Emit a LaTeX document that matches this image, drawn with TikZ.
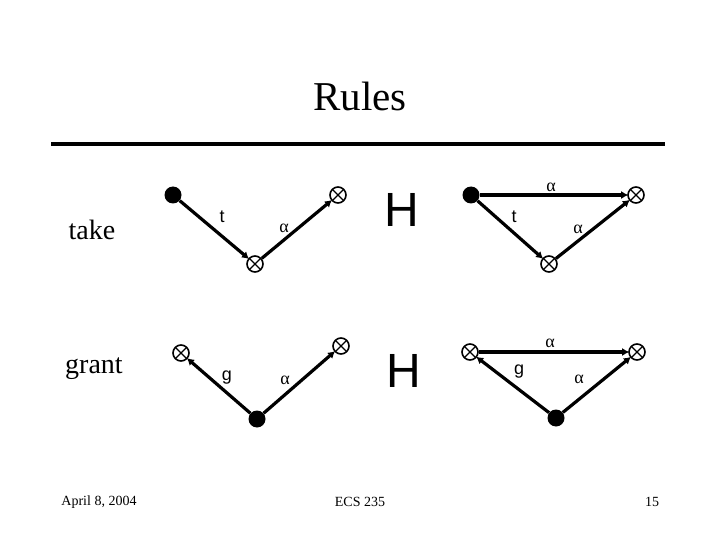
\documentclass[tikz,border=0pt]{standalone}
\usepackage{fontspec}
\setmainfont{Liberation Serif}
\newfontfamily\arialf{Liberation Sans}
\usetikzlibrary{arrows.meta}
\tikzset{
  vfull/.style={circle,fill=black,minimum size=17pt,inner sep=0pt},
  vx/.style={circle,draw=black,line width=1.6pt,minimum size=16pt,inner sep=0pt,
    path picture={\draw[line width=1.4pt]
      ([shift={(-5.5pt,-5.5pt)}]path picture bounding box.center) -- ([shift={(5.5pt,5.5pt)}]path picture bounding box.center)
      ([shift={(-5.5pt,5.5pt)}]path picture bounding box.center) -- ([shift={(5.5pt,-5.5pt)}]path picture bounding box.center);}},
  arr/.style={line width=3.2pt,-{Latex[length=7pt,width=8pt]},shorten >=-1pt},
  lab/.style={font=\arialf\fontsize{18}{18}\selectfont},
  alab/.style={font=\fontsize{18}{18}\selectfont},
  bigh/.style={font=\arialf\fontsize{48}{48}\selectfont},
  rowlab/.style={font=\fontsize{28}{28}\selectfont},
  foot/.style={font=\fontsize{14}{14}\selectfont}
}
\begin{document}
\begin{tikzpicture}[x=1pt,y=-1pt]
\useasboundingbox (0,0) rectangle (720,540);
\node[font=\fontsize{41}{41}\selectfont] (title) at (360,96) {Rules};
\draw[line width=4pt] (51,144) -- (665,144);
% take row
\node[rowlab] (take) at (92,230) {take};
\node[vfull] (a1) at (173,195) {};
\node[vx] (b1) at (255,264) {};
\node[vx] (c1) at (338,195) {};
\draw[arr] (a1) -- (b1);
\draw[arr] (b1) -- (c1);
\node[lab] (t1) at (222,217) {t};
\node[alab] (al1) at (284,228) {α};
\node[bigh] (h1) at (402,210) {H};
\node[vfull] (a2) at (471,195) {};
\node[vx] (b2) at (549,264) {};
\node[vx] (c2) at (636,195) {};
\draw[arr] (a2) -- (c2);
\draw[arr] (a2) -- (b2);
\draw[arr] (b2) -- (c2);
\node[alab] (al2) at (551,187) {α};
\node[lab] (t2) at (514,217) {t};
\node[alab] (al3) at (578,229) {α};
% grant row
\node[rowlab] (grant) at (94,369) {grant};
\node[vx] (a3) at (181,353) {};
\node[vfull] (b3) at (257,419) {};
\node[vx] (c3) at (341,346) {};
\draw[arr] (b3) -- (a3);
\draw[arr] (b3) -- (c3);
\node[lab] (g1) at (227,378) {g};
\node[alab] (al4) at (285,380) {α};
\node[bigh] (h2) at (404,371) {H};
\node[vx] (a4) at (470,352) {};
\node[vfull] (b4) at (556,418) {};
\node[vx] (c4) at (637,352) {};
\draw[arr] (a4) -- (c4);
\draw[arr] (b4) -- (a4);
\draw[arr] (b4) -- (c4);
\node[alab] (al5) at (550,343) {α};
\node[lab] (g2) at (519,372) {g};
\node[alab] (al6) at (579,379) {α};
% footer
\node[foot] (date) at (99,502) {April 8, 2004};
\node[foot] (course) at (360,502) {ECS 235};
\node[foot] (page) at (652,502) {15};
\end{tikzpicture}
\end{document}
